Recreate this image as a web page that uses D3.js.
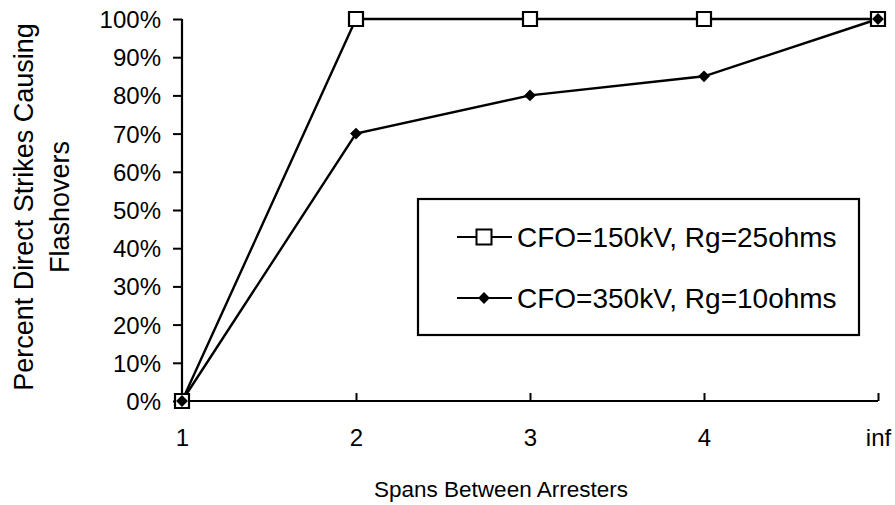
<!DOCTYPE html>
<html><head><meta charset="utf-8">
<script src="https://cdn.jsdelivr.net/npm/d3@7"></script>
<style>body{margin:0;background:#fff}svg{display:block}text{font-family:"Liberation Sans",Arial,sans-serif;fill:#000}</style>
</head><body>
<script>
const categories = ["1","2","3","4","inf"];
const series150 = [0,100,100,100,100];
const series350 = [0,70,80,85,100];
const yTicks = [0,10,20,30,40,50,60,70,80,90,100];
const seriesNames = ["CFO=150kV, Rg=25ohms","CFO=350kV, Rg=10ohms"];

const W=895,H=505;
const FONT="Liberation Sans, Arial, sans-serif";
const svg=d3.select("body").append("svg").attr("width",W).attr("height",H);
const x=d3.scalePoint().domain(categories).range([182,878]);
const y=d3.scaleLinear().domain([0,100]).range([401,19]);

const diamondType={draw(ctx,size){const r=Math.sqrt(size/2);ctx.moveTo(0,-r);ctx.lineTo(r,0);ctx.lineTo(0,r);ctx.lineTo(-r,0);ctx.closePath();}};

// y axis
const ya=svg.append("g").attr("transform","translate(182,0)")
 .call(d3.axisLeft(y).tickValues(yTicks).tickFormat(d=>d+"%").tickSize(9).tickPadding(12));
ya.select(".domain").attr("stroke","#000").attr("stroke-width",2.2).attr("d","M0,401V19");
ya.selectAll(".tick line").attr("stroke","#000").attr("stroke-width",2);
ya.selectAll(".tick text").attr("font-size",24).attr("font-family",FONT).attr("dy","0.35em");

// x axis
const xa=svg.append("g").attr("transform","translate(0,401)")
 .call(d3.axisBottom(x).tickSize(-8).tickPadding(28));
xa.select(".domain").attr("stroke","#000").attr("stroke-width",2.2).attr("d","M182,0H878");
xa.selectAll(".tick line").attr("stroke","#000").attr("stroke-width",2);
xa.selectAll(".tick text").attr("font-size",24).attr("font-family",FONT);

// titles
svg.append("text").attr("x",501).attr("y",497).attr("text-anchor","middle").attr("font-size",22.5).text("Spans Between Arresters");
const yt=svg.append("text").attr("transform","translate(0,207) rotate(-90)").attr("text-anchor","middle").attr("font-size",27);
yt.append("tspan").attr("x",0).attr("y",33).text("Percent Direct Strikes Causing");
yt.append("tspan").attr("x",0).attr("y",69).text("Flashovers");

const line=d3.line().x((d,i)=>x(categories[i])).y(d=>y(d));
svg.append("path").datum(series150).attr("d",line).attr("fill","none").attr("stroke","#000").attr("stroke-width",2.4);
svg.append("path").datum(series350).attr("d",line).attr("fill","none").attr("stroke","#000").attr("stroke-width",2.4);

const sq=d3.symbol().type(d3.symbolSquare).size(196);
const di=d3.symbol().type(diamondType).size(70);
svg.selectAll(".s1").data(series150).join("path")
 .attr("transform",(d,i)=>`translate(${x(categories[i])},${y(d)})`)
 .attr("d",sq).attr("fill","#fff").attr("stroke","#000").attr("stroke-width",2.2);
svg.selectAll(".s2").data(series350).join("path")
 .attr("transform",(d,i)=>`translate(${x(categories[i])},${y(d)})`)
 .attr("d",di).attr("fill","#000");

// legend
const lg=svg.append("g");
lg.append("rect").attr("x",418).attr("y",199).attr("width",441).attr("height",136).attr("fill","#fff").attr("stroke","#000").attr("stroke-width",2.2);
const ly=[237,298];
[0,1].forEach(k=>{
 lg.append("line").attr("x1",457).attr("x2",512).attr("y1",ly[k]).attr("y2",ly[k]).attr("stroke","#000").attr("stroke-width",2);
 lg.append("path").attr("transform",`translate(484,${ly[k]})`).attr("d",k==0?d3.symbol().type(d3.symbolSquare).size(225)():di())
  .attr("fill",k==0?"#fff":"#000").attr("stroke",k==0?"#000":"none").attr("stroke-width",2);
 lg.append("text").attr("x",517).attr("y",ly[k]).attr("dy","0.35em").attr("font-size",28).text(seriesNames[k]);
});
</script>
</body></html>
